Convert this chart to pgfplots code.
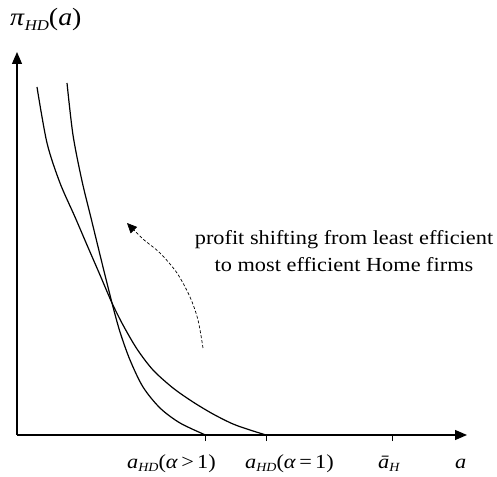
\documentclass[border=0pt]{standalone}
\usepackage{fontspec}
\setmainfont[FakeStretch=1.12]{Liberation Serif}
\usepackage{pgfplots}
\pgfplotsset{compat=1.18}
\usetikzlibrary{arrows.meta}

% subscript as set by the equation editor: small italic, lowered
\newcommand\sub[1]{\raisebox{-3.5bp}{\fontsize{12.5}{12.5}\selectfont\itshape #1}}
\newcommand\bigsub[1]{\raisebox{-4.5bp}{\fontsize{15}{15}\selectfont\itshape #1}}

\begin{document}
\begin{tikzpicture}[lab/.style={font=\fontsize{20}{24}\selectfont, inner sep=0pt}]
\begin{axis}[
  x=1bp, y=1bp,
  xmin=0, xmax=450, ymin=0, ymax=383,
  axis lines=left,
  axis line style={line width=1.3bp, -{Triangle[length=12bp,width=10bp]}},
  xtick={188.5,249,375}, xticklabels={},
  ytick=\empty,
  tick align=outside,
  major tick length=6bp,
  tick style={black, line width=1bp},
  clip=false,
]
% alpha = 1
\addplot[black, line width=1.2bp, smooth, mark=none] coordinates {
  (20,348) (30,292) (43,252) (58,218) (70,190) (83,160) (95,132)
  (106,110) (120,86) (136,65) (156,47) (176,33) (196,21) (216,11)
  (233,5) (249,0)
};
% alpha > 1
\addplot[black, line width=1.2bp, smooth, mark=none] coordinates {
  (50,352) (56,300) (65,254) (75,213) (85,172) (95,132) (103,103)
  (113,75) (126,48) (143,27) (163,12) (188.5,0)
};
% profit shifting arrow
\addplot[black, line width=0.7bp, dash pattern=on 3bp off 2bp, smooth, mark=none,
  -{Triangle[length=10bp,width=9bp]}] coordinates {
  (186,87) (181,115) (173,138) (160,162) (143,182) (126,196) (110,212)
};

\node[lab, anchor=base] at (axis cs:327,190) {profit shifting from least efficient};
\node[lab, anchor=base] at (axis cs:327,163) {to most efficient Home firms};

\node[lab, font=\fontsize{25}{28}\selectfont, anchor=base west] at (axis cs:-7,409)
  {\textit{π}\bigsub{HD}(\textit{a})};
\node[lab, anchor=base west] at (axis cs:110,-33) {\textit{a}\sub{HD}(\textit{α}\,>\,1)};
\node[lab, anchor=base west] at (axis cs:228,-33) {\textit{a}\sub{HD}(\textit{α}\,=\,1)};
\node[lab, anchor=base west] at (axis cs:361,-33) {\textit{ā}\sub{H}};
\node[lab, anchor=base west] at (axis cs:438,-33) {\textit{a}};

\coordinate (bl) at (axis cs:-17,-42);
\coordinate (tr) at (axis cs:480,435);
\end{axis}
\pgfresetboundingbox
\path[use as bounding box] (bl) rectangle (tr);
\end{tikzpicture}
\end{document}
